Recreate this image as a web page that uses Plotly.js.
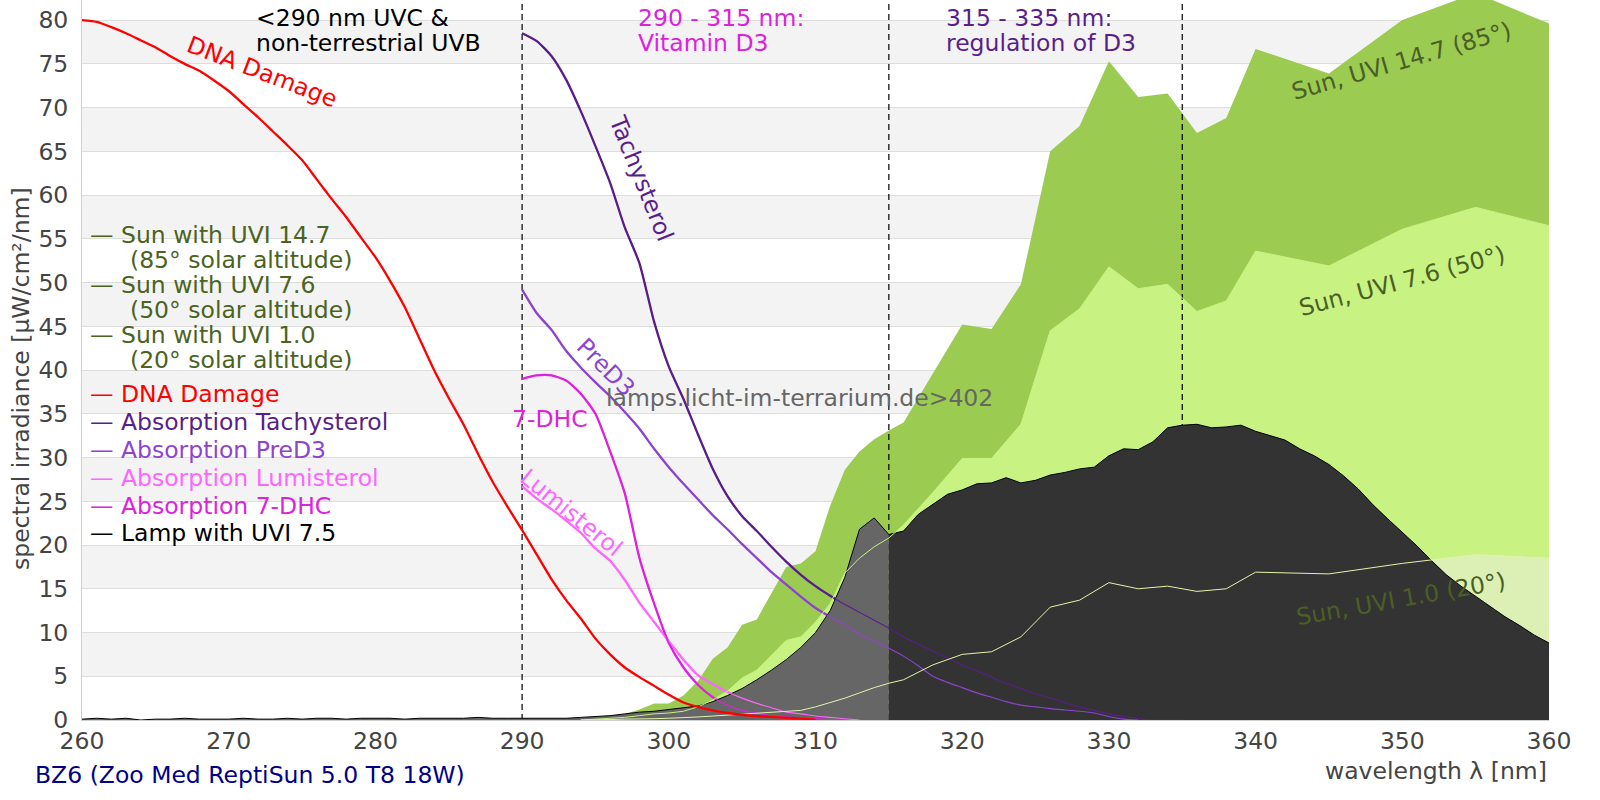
<!DOCTYPE html>
<html>
<head>
<meta charset="utf-8">
<script src="https://cdn.plot.ly/plotly-3.0.1.min.js"></script>
<style>html,body{margin:0;padding:0;background:#fff}</style>
</head>
<body>
<div id="chart" style="width:1600px;height:800px"></div>
<script>
// wavelength grids (nm)
const lampWl = [260,261,262,263,264,265,266,267,268,269,270,271,272,273,274,275,276,277,278,279,
  280,281,282,283,284,285,286,287,288,289,290,291,292,293,294,295,296,297,298,299,
  300,301,302,303,304,305,306,307,308,309,310,311,312,313,314,315,316,317,318,319,
  320,321,322,323,324,325,326,327,328,329,330,331,332,333,334,335,336,337,338,339,
  340,341,342,343,344,345,346,347,348,349,350,351,352,353,354,355,356,357,358,359,360];
const sunWl = [294,295,296,297,298,299,300,301,302,303,304,305,306,307,308,309,310,311,312,313,314,315,316,
  318,320,322,324,326,328,330,332,334,336,338,340,345,350,355,360];
const dnaWl = [260,261,262,263,264,265,266,267,268,269,270,271,272,273,274,275,276,277,278,279,
  280,281,282,283,284,285,286,287,288,289,290,291,292,293,294,295,296,297,298,299,
  300,301,302,303,304,305,306,307,308,309,310];
const absWl = [290,291,292,293,294,295,296,297,298,299,300,301,302,303,304,305,306,307,308,309,
  310,311,312,313,314,315,316,317,318,319,320,321,322,323,324,325,326,327,328,329,
  330,331,332,333,334,335];

// lamp with UVI 7.5 (µW/cm²/nm)
const lampVal = [0.1,0.2,0.1,0.2,0.0,0.1,0.1,0.2,0.1,0.1, 0.1,0.2,0.1,0.1,0.2,0.1,0.2,0.2,0.1,0.2,
  0.2,0.2,0.1,0.2,0.2,0.2,0.2,0.3,0.2,0.2, 0.2,0.2,0.2,0.2,0.3,0.4,0.5,0.7,0.9,1.0,
  1.2,1.4,1.6,2.1,2.8,3.6,4.6,5.7,6.9,8.3, 10.0,12.5,16.3,21.8,23.1,21.2,21.6,23.5,24.6,25.8,
  26.3,27.0,27.1,27.7,27.1,27.4,28.0,28.3,28.7,28.9, 30.2,31.0,30.9,31.8,33.4,33.7,33.8,33.4,33.5,33.7,
  33.0,32.5,32.0,31.0,30.2,29.2,27.9,26.4,24.6,23.0, 21.5,19.9,18.2,16.6,15.3,14.1,13.0,11.8,10.8,9.7,
  8.8];

// sun spectra
const sun147 = [0.0,0.2,0.4,0.7,1.2,1.9,1.9,2.8,4.5,7.0, 8.3,10.9,11.5,14.5,17.5,17.9,19.3,24.5,28.6,30.7,
  32.1,33.1,34.0, 39.6,45.2,44.7,49.8,65.0,67.9,75.3,71.2,71.6,67.1,68.8,76.7, 73.9,80.0,83.1,79.6];
const sun76 = [0.0,0.1,0.2,0.3,0.5,0.7,0.8,1.0,1.5,2.3, 3.3,4.8,5.7,7.4,9.1,9.5,11.2,13.3,16.8,18.5,
  19.8,20.8,22.3, 26.0,29.9,29.9,33.8,44.5,47.0,51.8,49.3,49.8,46.7,47.9,53.6, 51.9,56.1,58.6,56.5];
const sun10 = [0.0,0.0,0.05,0.1,0.1,0.15,0.2,0.25,0.35,0.45, 0.55,0.65,0.75,0.85,0.95,1.1,1.5,2.0,2.5,3.1,
  3.7,4.2,4.6, 6.3,7.5,7.8,9.5,12.9,13.7,15.7,15.0,15.3,14.7,15.0,16.9, 16.7,17.9,18.9,18.5];

// action spectra, scaled
const dnaDamage = [80.0,79.8,79.2,78.5,77.7,76.9,75.9,75.0,74.2,73.1, 71.9,70.4,68.9,67.3,65.7,64.0,61.8,59.6,57.5,55.2,
  52.9,50.2,47.2,43.6,40.0,36.8,33.8,30.4,27.2,24.4, 21.7,18.9,16.1,13.7,11.6,9.3,7.5,6.0,4.9,3.9,
  2.9,2.0,1.5,1.1,0.8,0.6,0.45,0.35,0.25,0.15,0.05];
const tachysterol = [78.5,77.6,75.9,73.2,69.6,65.6,61.4,56.3,52.2,45.5, 40.4,36.7,32.6,28.7,25.6,23.3,21.6,19.8,18.1,16.6,
  15.3,14.2,13.2,12.3,11.4,10.5,9.5,8.7,7.9,7.1, 6.3,5.6,4.9,4.2,3.6,3.0,2.5,2.0,1.5,1.1,
  0.7,0.4,0.15,0.0,0.0,0.0];
const preD3 = [49.2,46.5,44.6,42.2,40.3,38.6,37.0,35.2,33.3,31.0, 28.9,27.0,25.2,23.4,21.8,20.1,18.5,16.9,15.5,14.1,
  12.8,11.8,10.9,9.8,9.0,8.2,7.3,6.2,5.0,4.3, 3.7,3.1,2.6,2.1,1.7,1.5,1.3,1.15,1.0,0.8,
  0.4,0.1,0.0];
const lumisterol = [26.7,25.3,24.1,22.8,21.4,19.6,18.2,16.0,13.4,11.2, 9.0,6.9,5.1,4.1,3.2,2.5,1.9,1.4,0.9,0.7,
  0.45,0.3,0.15,0.0];
const dhc7 = [39.0,39.4,39.4,38.8,37.3,35.0,30.7,25.9,18.5,13.3, 8.8,6.0,4.0,2.6,1.7,1.1,0.8,0.5,0.35,0.25,
  0.15,0.05,0.0];

const regionEdges = [290, 315, 335];
const lampSplit = 315;

const FONT = 'DejaVu Sans, sans-serif';
const FS = 23.5;
const Y_TOP = 82.3;
const C = {
  sun147: '#9bcb50', sun76: '#c8f282', sun10: '#dcf0b6', sun10line: '#e2f4aa',
  dna: '#ff0000', tachy: '#5a1e8c', pre: '#8e44d0', lumi: '#ff66ff', dhc: '#dd22dd',
  sunText: '#4b6320', sunLabel: '#4b5e28', axis: '#444444'
};

const area = (x, y, color) => ({
  type: 'scatter', mode: 'lines', x, y, fill: 'tozeroy', fillcolor: color,
  line: { width: 0, color }, hoverinfo: 'skip'
});
const curve = (x, y, color, width) => ({
  type: 'scatter', mode: 'lines', x: x.slice(0, y.length), y,
  line: { color, width, shape: 'spline', smoothing: 0.6 }, hoverinfo: 'skip'
});

const lampLeft = lampWl.map((w, i) => [w, lampVal[i]]).filter(p => p[0] <= lampSplit);
const lampRight = lampWl.map((w, i) => [w, lampVal[i]]).filter(p => p[0] >= lampSplit);
const absorption = [[tachysterol, C.tachy], [preD3, C.pre], [lumisterol, C.lumi], [dhc7, C.dhc]];

const data = [
  area(sunWl, sun147, C.sun147),
  area(sunWl, sun76, C.sun76),
  area(sunWl, sun10, C.sun10),
  ...regionEdges.map(e => ({
    type: 'scatter', mode: 'lines', x: [e, e], y: [0, Y_TOP],
    line: { color: '#000', width: 1.2, dash: '6px,4px' }, hoverinfo: 'skip'
  })),
  ...absorption.map(([y, c]) => curve(absWl, y, c, 2.3)),
  {
    type: 'scatter', mode: 'lines', x: lampLeft.map(p => p[0]), y: lampLeft.map(p => p[1]),
    fill: 'tozeroy', fillcolor: '#666666', line: { color: '#000', width: 1 }, hoverinfo: 'skip'
  },
  {
    type: 'scatter', mode: 'lines', x: lampRight.map(p => p[0]), y: lampRight.map(p => p[1]),
    fill: 'tozeroy', fillcolor: '#333333', line: { color: '#000', width: 1 }, hoverinfo: 'skip'
  },
  ...absorption.map(([y, c]) => curve(absWl, y, c, 1.1)),
  { type: 'scatter', mode: 'lines', x: sunWl, y: sun76, line: { color: C.sun76, width: 1 }, hoverinfo: 'skip' },
  { type: 'scatter', mode: 'lines', x: sunWl, y: sun10, line: { color: C.sun10line, width: 1 }, hoverinfo: 'skip' },
  curve(dnaWl, dnaDamage, C.dna, 2.3)
];

// pixel helpers (plot area 82..1549 x 0..720)
const py = px => 1 - px / 720;
const pxX = px => (px - 82) / 1467;

const txt = (text, color, extra) => Object.assign({
  text, showarrow: false, font: { family: FONT, size: FS, color }
}, extra);

const legendRows = [
  ['— Sun with UVI 14.7', C.sunText, 88, 235],
  ['(85° solar altitude)', C.sunText, 128, 260],
  ['— Sun with UVI 7.6', C.sunText, 88, 285],
  ['(50° solar altitude)', C.sunText, 128, 310],
  ['— Sun with UVI 1.0', C.sunText, 88, 335],
  ['(20° solar altitude)', C.sunText, 128, 360],
  ['— DNA Damage', C.dna, 88, 394],
  ['— Absorption Tachysterol', C.tachy, 88, 422],
  ['— Absorption PreD3', C.pre, 88, 450],
  ['— Absorption Lumisterol', C.lumi, 88, 478],
  ['— Absorption 7-DHC', C.dhc, 88, 506],
  ['— Lamp with UVI 7.5', '#000000', 88, 533]
];

const annotations = [
  ...legendRows.map(([t, c, x, y]) => txt(t, c, {
    xref: 'paper', yref: 'paper', x: pxX(x), y: py(y), xanchor: 'left', yanchor: 'middle'
  })),
  txt('<290 nm UVC &', '#000', { xref: 'paper', yref: 'paper', x: pxX(254), y: py(18), xanchor: 'left', yanchor: 'middle' }),
  txt('non-terrestrial UVB', '#000', { xref: 'paper', yref: 'paper', x: pxX(254), y: py(43), xanchor: 'left', yanchor: 'middle' }),
  txt('290 - 315 nm:', C.dhc, { xref: 'paper', yref: 'paper', x: pxX(636), y: py(18), xanchor: 'left', yanchor: 'middle' }),
  txt('Vitamin D3', C.dhc, { xref: 'paper', yref: 'paper', x: pxX(636), y: py(43), xanchor: 'left', yanchor: 'middle' }),
  txt('315 - 335 nm:', C.tachy, { xref: 'paper', yref: 'paper', x: pxX(944), y: py(18), xanchor: 'left', yanchor: 'middle' }),
  txt('regulation of D3', C.tachy, { xref: 'paper', yref: 'paper', x: pxX(944), y: py(43), xanchor: 'left', yanchor: 'middle' }),
  txt('DNA Damage', C.dna, { x: 272.3, y: 74.1, textangle: 21 }),
  txt('Tachysterol', C.tachy, { x: 298.1, y: 61.9, textangle: 68 }),
  txt('PreD3', C.pre, { x: 295.7, y: 40.4, textangle: 45 }),
  txt('7-DHC', C.dhc, { x: 291.9, y: 34.4 }),
  txt('Lumisterol', C.lumi, { x: 293.4, y: 23.7, textangle: 39 }),
  txt('lamps.licht-im-terrarium.de>402', '#666666', { x: 308.9, y: 36.8 }),
  txt('Sun, UVI 14.7 (85°)', C.sunLabel, { x: 349.95, y: 75.3, textangle: -16 }),
  txt('Sun, UVI 7.6 (50°)', C.sunLabel, { x: 350.0, y: 50.2, textangle: -15 }),
  txt('Sun, UVI 1.0 (20°)', C.sunLabel, { x: 349.9, y: 13.8, textangle: -10 }),
  txt('spectral irradiance [µW/cm²/nm]', C.axis, {
    xref: 'paper', yref: 'paper', x: pxX(21), y: py(379), textangle: -90, xanchor: 'center', yanchor: 'middle'
  }),
  txt('wavelength λ [nm]', C.axis, { xref: 'paper', yref: 'paper', x: 1, y: py(771), xanchor: 'right', yanchor: 'middle' }),
  txt('BZ6 (Zoo Med ReptiSun 5.0 T8 18W)', '#000088', {
    xref: 'paper', yref: 'paper', x: pxX(33), y: py(775), xanchor: 'left', yanchor: 'middle'
  })
];

// alternating horizontal bands behind the grid
const shapes = [];
for (let b = 5; b < 80; b += 10) {
  shapes.push({
    type: 'rect', xref: 'paper', yref: 'y', x0: 0, x1: 1, y0: b, y1: b + 5,
    fillcolor: '#f3f3f3', line: { width: 0 }, layer: 'below'
  });
}

const layout = {
  width: 1600, height: 800,
  margin: { l: 82, r: 51, t: 0, b: 80 },
  paper_bgcolor: '#fff', plot_bgcolor: '#fff',
  showlegend: false,
  font: { family: FONT, size: FS, color: C.axis },
  xaxis: {
    range: [260, 360], dtick: 10, tick0: 260, showgrid: false, zeroline: false,
    showline: true, linecolor: '#d0d0d0', ticks: '', ticklabelstandoff: 0,
    tickfont: { family: FONT, size: FS, color: C.axis }
  },
  yaxis: {
    range: [0, Y_TOP], dtick: 5, tick0: 0, showgrid: true, gridcolor: '#dddddd', zeroline: false,
    showline: true, linecolor: '#d0d0d0', ticks: '', ticklabelstandoff: 8,
    tickfont: { family: FONT, size: FS, color: C.axis }
  },
  shapes,
  annotations
};

Plotly.newPlot('chart', data, layout, { displayModeBar: false, staticPlot: true });
</script>
</body>
</html>
